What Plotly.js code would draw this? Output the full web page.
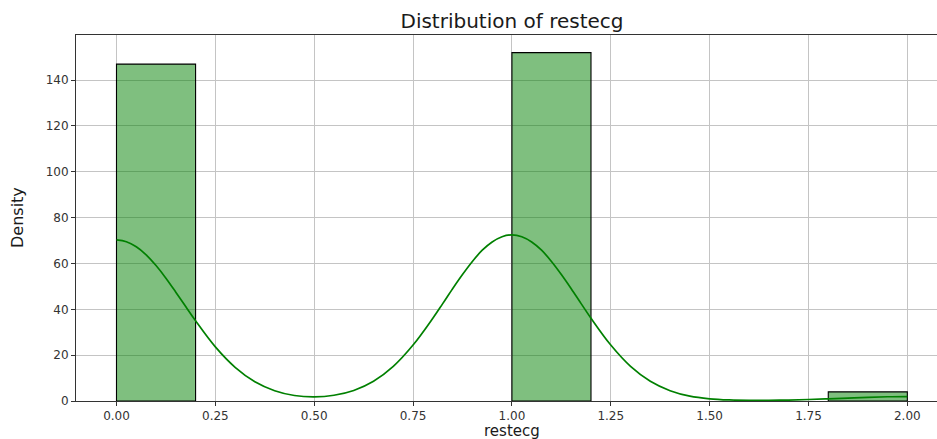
<!DOCTYPE html>
<html>
<head>
<meta charset="utf-8">
<script src="https://cdn.plot.ly/plotly-3.0.1.min.js"></script>
<style>html,body{margin:0;padding:0;background:#fff;}#chart{width:937px;height:439px;}</style>
</head>
<body>
<div id="chart"></div>
<script>
// Histogram bins (left edges), bin width and counts
const binLeft = [0.0, 1.0, 1.8];
const binWidth = 0.2;
const counts = [147, 152, 4];

// KDE curve (scaled to counts)
const kdeX = [0.000, 0.025, 0.050, 0.075, 0.100, 0.125, 0.150, 0.175, 0.200, 0.25, 0.30, 0.35, 0.40, 0.45, 0.50, 0.55, 0.60, 0.65, 0.70, 0.75, 0.800, 0.825, 0.850, 0.875, 0.900, 0.925, 0.950, 0.975, 1.000, 1.025, 1.050, 1.075, 1.100, 1.125, 1.150, 1.175, 1.200, 1.25, 1.30, 1.35, 1.40, 1.45, 1.50, 1.55, 1.60, 1.65, 1.70, 1.75, 1.80, 1.85, 1.90, 1.95, 2.00];
const kdeY = [70.3, 69.5, 67.3, 63.8, 59.1, 53.6, 47.5, 41.2, 35.0, 23.6, 14.7, 8.4, 4.5, 2.4, 1.8, 2.5, 4.6, 8.6, 15.1, 24.4, 36.1, 42.5, 49.0, 55.2, 60.9, 65.8, 69.4, 71.7, 72.5, 71.7, 69.4, 65.8, 60.9, 55.2, 49.0, 42.5, 36.1, 24.4, 15.1, 8.6, 4.5, 2.1, 0.95, 0.45, 0.27, 0.28, 0.42, 0.65, 0.95, 1.28, 1.6, 1.85, 1.95];

const xTicks = [0, 0.25, 0.5, 0.75, 1.0, 1.25, 1.5, 1.75, 2.0];
const yTicks = [0, 20, 40, 60, 80, 100, 120, 140];

const binCenters = binLeft.map(b => b + binWidth / 2);

const font = "DejaVu Sans, sans-serif";

const traces = [
  {
    type: 'bar',
    x: binCenters,
    y: counts,
    width: binLeft.map(() => binWidth),
    marker: {color: 'rgba(0,128,0,0.5)', line: {color: '#000000', width: 1.1}},
    hoverinfo: 'x+y',
    showlegend: false
  },
  {
    type: 'scatter',
    mode: 'lines',
    x: kdeX,
    y: kdeY,
    line: {color: '#008000', width: 1.7, shape: 'spline', smoothing: 1},
    showlegend: false
  }
];

const layout = {
  width: 937,
  height: 439,
  margin: {l: 76, r: 0, t: 35, b: 38},
  paper_bgcolor: '#ffffff',
  plot_bgcolor: '#ffffff',
  bargap: 0,
  font: {family: font, color: '#262626'},
  title: {
    text: 'Distribution of restecg',
    font: {family: font, size: 20, color: '#1a1a1a'},
    xref: 'container', x: 512 / 937, xanchor: 'center',
    yref: 'container', y: 1 - 21 / 439, yanchor: 'middle'
  },
  xaxis: {
    range: [-0.1024, 2.075],
    tickvals: xTicks,
    ticktext: xTicks.map(v => v.toFixed(2)),
    ticks: 'outside', ticklen: 4, tickwidth: 1, tickcolor: '#333',
    showline: true, linecolor: '#333', linewidth: 1, mirror: true,
    showgrid: true, gridcolor: '#c4c4c4', gridwidth: 1,
    zeroline: false,
    tickfont: {family: font, size: 12, color: '#333'}
  },
  yaxis: {
    range: [0, 159.7],
    tickvals: yTicks,
    ticks: 'outside', ticklen: 4, tickwidth: 1, tickcolor: '#333',
    showline: true, linecolor: '#333', linewidth: 1,
    showgrid: true, gridcolor: '#c4c4c4', gridwidth: 1,
    zeroline: false,
    tickfont: {family: font, size: 12, color: '#333'}
  },
  annotations: [
    {
      text: 'restecg', showarrow: false,
      xref: 'paper', x: (512 - 76) / 861, xanchor: 'center',
      yref: 'paper', y: 0, yanchor: 'top', yshift: -19,
      font: {family: font, size: 15, color: '#1a1a1a'}
    },
    {
      text: 'Density', showarrow: false, textangle: -90,
      xref: 'paper', x: 0, xanchor: 'center', xshift: -59,
      yref: 'paper', y: 0.5, yanchor: 'middle',
      font: {family: font, size: 16, color: '#1a1a1a'}
    }
  ]
};

Plotly.newPlot('chart', traces, layout, {displayModeBar: false, staticPlot: true});
</script>
</body>
</html>
